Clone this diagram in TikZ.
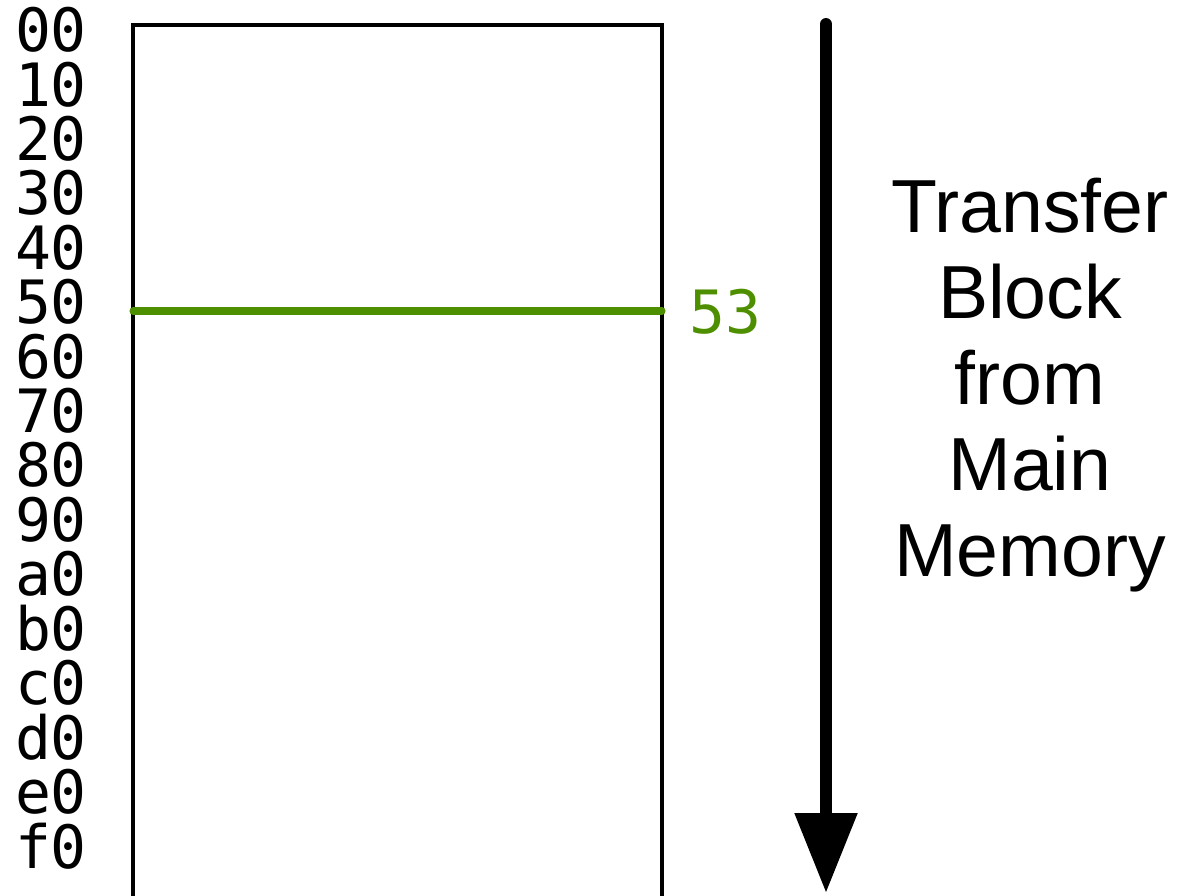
\documentclass[tikz,border=0pt]{standalone}
\usepackage{fontspec}
\setmainfont{Liberation Sans}
\setmonofont{DejaVu Sans Mono}
\usetikzlibrary{arrows.meta,positioning}
\definecolor{linegreen}{RGB}{78,143,0}

\tikzset{
  addr/.style={font=\ttfamily\fontsize{17}{17}\selectfont, inner sep=0pt},
  bigtext/.style={font=\fontsize{21.4}{24.5}\selectfont, align=center}
}

\begin{document}
\begin{tikzpicture}[x=0.1mm,y=0.1mm]
\useasboundingbox (0,0) rectangle (1178,-895);
% memory box
\draw[line width=1.15pt] (133,-897) -- (133,-25) -- (662,-25) -- (662,-897);
% address labels
\foreach \lbl [count=\i from 0] in {00,10,20,30,40,50,60,70,80,90,a0,b0,c0,d0,e0,f0}
  \node[addr] (addr\i) at (51,-30-54.4*\i) {\lbl};
% block line
\coordinate (lineL) at (133,-311);
\coordinate (lineR) at (662,-311);
\draw[linegreen, line width=2pt, line cap=round] (lineL) -- (lineR);
\node[addr, text=linegreen, anchor=west] (blk) at (689,-312) {53};
% transfer arrow
\coordinate (arrTop) at (826,-24);
\coordinate (arrEnd) at (826,-893);
\draw[line width=3.4pt, line cap=round, -{Triangle[length=8mm,width=6mm]}] (arrTop) -- (arrEnd);
\node[bigtext] (xfer) at (1030,-385) {Transfer\\Block\\from\\Main\\Memory};
\end{tikzpicture}
\end{document}
